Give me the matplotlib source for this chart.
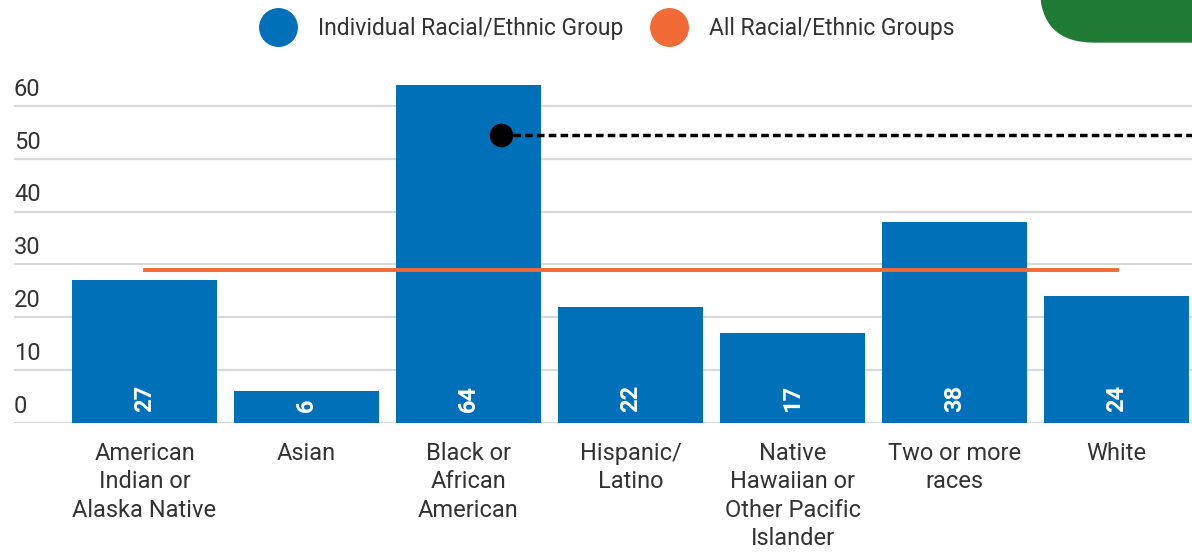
import matplotlib
import matplotlib.pyplot as plt
from matplotlib.lines import Line2D
from matplotlib.patches import FancyBboxPatch

matplotlib.use('Agg')
plt.rcParams['font.family'] = ['Roboto', 'DejaVu Sans']

categories = ['American\nIndian or\nAlaska Native', 'Asian', 'Black or\nAfrican\nAmerican',
              'Hispanic/\nLatino', 'Native\nHawaiian or\nOther Pacific\nIslander',
              'Two or more\nraces', 'White']
values = [27, 6, 64, 22, 17, 38, 24]
all_groups = 29
target_x = 2.2
target_y = 54.5
yticks = [0, 10, 20, 30, 40, 50, 60]

blue = '#0070b8'
orange = '#f26a36'
green = '#1f7a35'
grey = '#333333'

fig = plt.figure(figsize=(11.92, 5.52), dpi=100)
ax = fig.add_axes([0.0117, 0.2337, 0.9883, 0.6509])

x = list(range(len(values)))
ax.bar(x, values, width=0.895, color=blue, zorder=2)
for xi, v in zip(x, values):
    ax.text(xi, 2.0, str(v), rotation=90, ha='center', va='bottom', color='white',
            fontsize=17, fontweight='bold', zorder=4)

ax.plot([x[0], x[-1]], [all_groups, all_groups], color=orange, lw=2.8, zorder=3)

ax.set_xlim(-0.806, 6.466)
ax.set_ylim(0, 68)
ax.plot([target_x, ax.get_xlim()[1]], [target_y, target_y], color='black', lw=2.5,
        ls=(0, (2.2, 1.2)), zorder=5, solid_capstyle='butt')
ax.plot([target_x], [target_y], 'o', color='black', ms=16, zorder=6)

for t in yticks:
    ax.axhline(t, color='#d9d9d9', lw=1.6, zorder=1)
    ax.text(0.0, t + 1.0, str(t), transform=ax.get_yaxis_transform(), ha='left',
            va='bottom', fontsize=17, color=grey)

ax.set_yticks([])
ax.set_xticks(x)
ax.set_xticklabels(categories, fontsize=17, color=grey, linespacing=1.28, va='top')
ax.tick_params(axis='x', length=0, pad=14)
for s in ax.spines.values():
    s.set_visible(False)

handles = [Line2D([], [], marker='o', ls='', ms=27, color=blue),
           Line2D([], [], marker='o', ls='', ms=27, color=orange)]
fig.legend(handles, ['Individual Racial/Ethnic Group', 'All Racial/Ethnic Groups'],
           loc='center', bbox_to_anchor=(0.5075, 0.949), ncol=2, frameon=False,
           fontsize=16.5, labelcolor=grey, handletextpad=0.75, columnspacing=1.0)

fig.add_artist(FancyBboxPatch((0.873, 0.924), 0.2, 0.2, boxstyle='round,pad=0,rounding_size=0.045',
                              transform=fig.transFigure, color=green, mutation_aspect=2.16))

fig.savefig('out.png', dpi=100)
